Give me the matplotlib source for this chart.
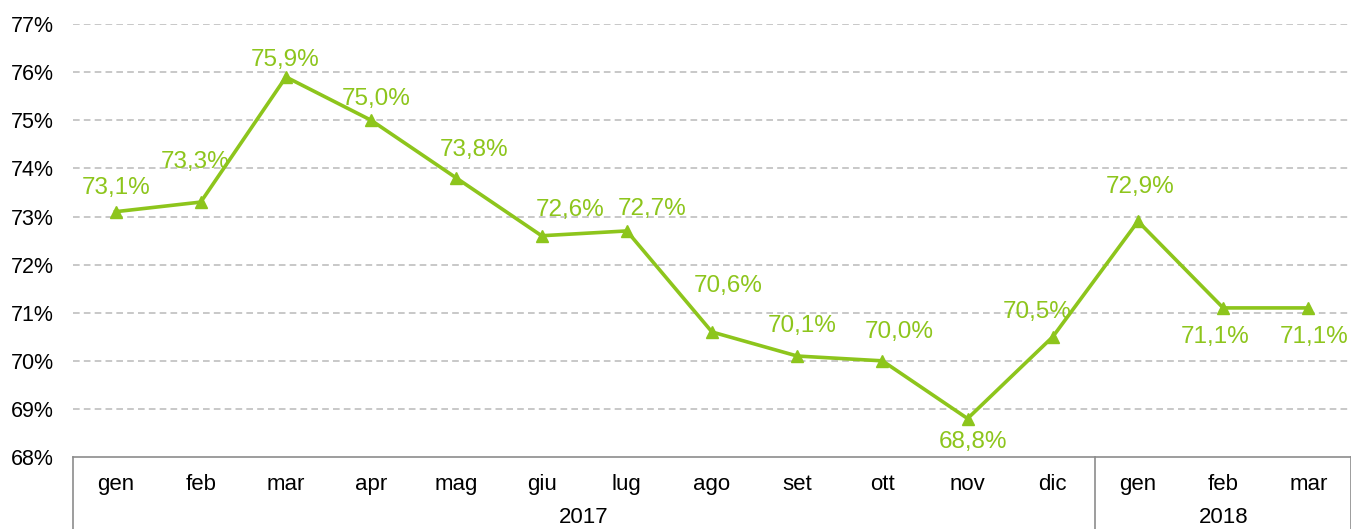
import numpy as np
from matplotlib import pyplot as plt
import matplotlib.transforms as mtransforms

months = ['gen', 'feb', 'mar', 'apr', 'mag', 'giu', 'lug', 'ago', 'set', 'ott', 'nov', 'dic', 'gen', 'feb', 'mar']
values = [73.1, 73.3, 75.9, 75.0, 73.8, 72.6, 72.7, 70.6, 70.1, 70.0, 68.8, 70.5, 72.9, 71.1, 71.1]
years = ['2017', '2018']
year_counts = [12, 3]
y_ticks = [68, 69, 70, 71, 72, 73, 74, 75, 76, 77]

# label placement relative to each point (pixels)
label_offsets = [(1, 24), (-6, 40), (-1, 17), (5, 21), (18, 28), (29, 26), (25, 22), (16, 46),
                 (5, 30), (17, 29), (5, -23), (-16, 25), (2, 34), (-8, -29), (6, -29)]

green = '#8DC51C'
plt.rcParams['font.family'] = ['Liberation Sans', 'DejaVu Sans']

fig = plt.figure(figsize=(13.51, 5.29), dpi=100)
ax = fig.add_axes([0.054, 0.136, 0.946, 0.8185])

x = np.arange(len(values))
ax.plot(x, values, color=green, lw=2.6, marker='^', markersize=9, zorder=3)

for xi, v, (dx, dy) in zip(x, values, label_offsets):
    ax.annotate(f"{v:.1f}%".replace('.', ','), (xi, v), xytext=(dx, dy), textcoords='offset pixels',
                ha='center', va='center', color=green, fontsize=17.5)

ax.set_xlim(-0.5, len(values) - 0.5)
ax.set_ylim(68, 77)
ax.set_yticks(y_ticks)
ax.set_yticklabels([f"{t}%" for t in y_ticks], fontsize=15.5)
ax.set_xticks(x)
ax.set_xticklabels(months, fontsize=16)
ax.tick_params(axis='both', length=0)
ax.tick_params(axis='x', pad=12)
ax.tick_params(axis='y', pad=13.5)

for t in y_ticks[1:]:
    ax.axhline(t, color='#BFBFBF', lw=1.2, ls=(0, (4, 2.5)), zorder=1)

for s in ['left', 'right', 'top']:
    ax.spines[s].set_visible(False)
ax.spines['bottom'].set_color('#8C8C8C')
ax.spines['bottom'].set_linewidth(1.2)

trans = mtransforms.blended_transform_factory(ax.transData, ax.transAxes)
bounds = np.concatenate([[0], np.cumsum(year_counts)]) - 0.5
for b in bounds:
    ax.plot([b, b], [0, -0.2], color='#8C8C8C', lw=1.2, transform=trans, clip_on=False)

for i, yr in enumerate(years):
    cx = (bounds[i] + bounds[i + 1]) / 2
    ax.text(cx, -0.14, yr, transform=trans, ha='center', va='center', fontsize=16)

fig.savefig('out.png', dpi=100)
